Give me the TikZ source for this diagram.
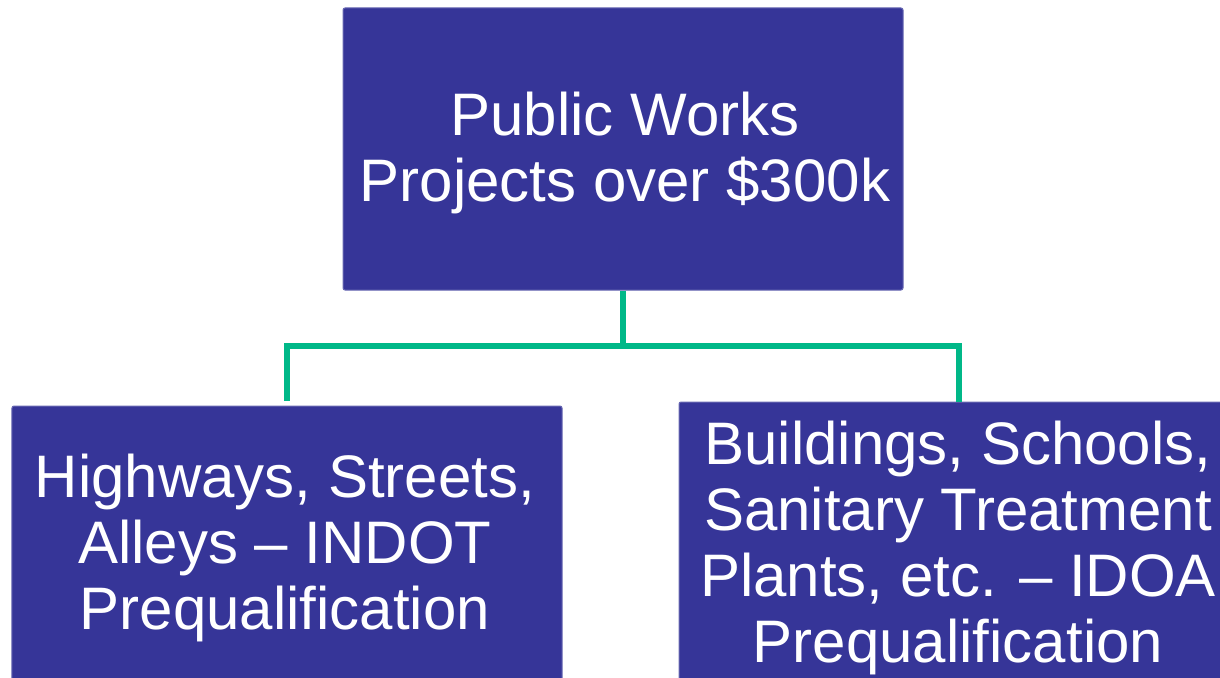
\documentclass[tikz,border=0pt]{standalone}
\usepackage{fontspec}
\setmainfont{Liberation Sans}
\definecolor{boxblue}{RGB}{54,53,152}
\definecolor{boxedge}{RGB}{104,104,178}
\definecolor{conngreen}{RGB}{0,184,136}
\tikzset{
  orgbox/.style={rectangle, fill=boxblue, draw=boxedge, line width=1bp, rounded corners=2bp, inner sep=0pt},
  orgtext/.style={anchor=base, inner sep=0pt, text=white, font=\fontsize{60bp}{66bp}\selectfont},
  conn/.style={draw=conngreen, line width=6bp}
}
\begin{document}
\begin{tikzpicture}[x=1bp, y=-1bp]
\useasboundingbox (0,0) rectangle (1220,678);
\clip (0,0) rectangle (1220,678);
% boxes
\node[orgbox, minimum width=560bp, minimum height=282bp] (top) at (623,149) {};
\node[orgbox, minimum width=550bp, minimum height=300bp] (left) at (287,556) {};
\node[orgbox, minimum width=558bp, minimum height=310bp] (right) at (958,557) {};
% texts
\node[orgtext] (toptext) at (625,136) {\begin{tabular}[t]{@{}c@{}}Public Works\\Projects over \$300k\end{tabular}};
\node[orgtext] (lefttext) at (285,497) {\begin{tabular}[t]{@{}c@{}}Highways, Streets,\\Alleys – INDOT\\Prequalification\end{tabular}};
\node[orgtext] (righttext) at (958,464) {\begin{tabular}[t]{@{}c@{}}Buildings, Schools,\\Sanitary Treatment\\Plants, etc. – IDOA\\Prequalification\end{tabular}};
% connectors
\coordinate (junction) at (623,346);
\coordinate (lend) at (287,401);
\coordinate (rend) at (959,402);
\draw[conn] (top.south) -- (junction);
\draw[conn] (lend) |- (junction) -| (rend);
\end{tikzpicture}
\end{document}
